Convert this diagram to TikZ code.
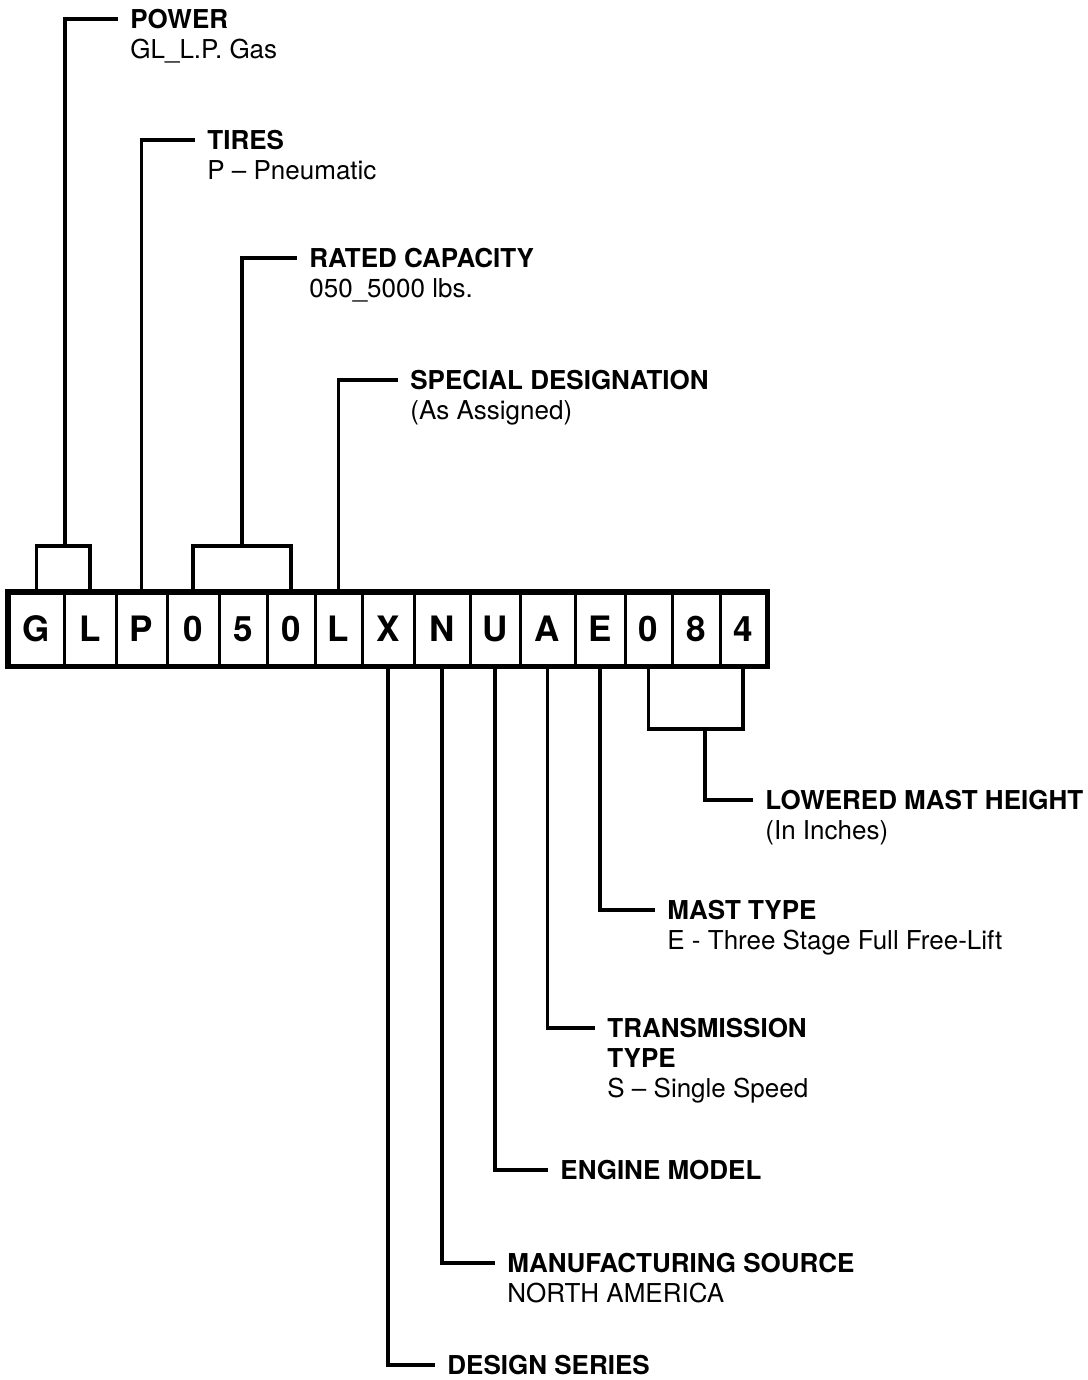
\documentclass[tikz,border=0pt]{standalone}
\usepackage{fontspec}
\setmainfont{TeX Gyre Heros}
\usetikzlibrary{positioning}
\begin{document}
\begin{tikzpicture}[x=0.5pt, y=-0.5pt,
	cell/.style={draw, line width=1.5pt, minimum height=36pt, inner sep=0pt, font=\fontsize{17.5}{20}\selectfont\bfseries},
	lead/.style={line width=1.75pt},
	head/.style={anchor=west, inner xsep=6pt, inner ysep=0pt, font=\fontsize{13}{15}\selectfont\bfseries},
	sub/.style={anchor=base west, inner xsep=6pt, inner ysep=0pt, font=\fontsize{13}{15}\selectfont}]
		\useasboundingbox (0,0) rectangle (1087,1380);
		\def\ym{629}
		% model number cells
		\foreach \l/\a/\b [count=\i] in {G/9/64, L/64/116, P/116/167, 0/167/219, 5/219/267, 0/267/315, L/315/362, X/362/414, N/414/470, U/470/520, A/520/575, E/575/625, 0/625/672, 8/672/720, 4/720/766}
			\node[cell, minimum width={(\b-\a)*0.5pt}] (c\i) at ({(\a+\b)/2},\ym) {\l};
		\draw[line width=2.5pt] (c1.north west) rectangle (c15.south east);
		% labels above
		\node[head] (pow) at (118,19) {POWER};
		\node[sub] at ([yshift=-15pt]pow.base west) {GL\_L.P. Gas};
		\node[head] (tir) at (195,140) {TIRES};
		\node[sub] at ([yshift=-15pt]tir.base west) {P -- Pneumatic};
		\node[head] (rat) at (297,258) {RATED CAPACITY};
		\node[sub] at ([yshift=-15pt]rat.base west) {050\_5000 lbs.};
		\node[head] (spe) at (398,380) {SPECIAL DESIGNATION};
		\node[sub] at ([yshift=-15pt]spe.base west) {(As Assigned)};
		% labels below
		\node[head] (low) at (753,800) {LOWERED MAST HEIGHT};
		\node[sub] at ([yshift=-15pt]low.base west) {(In Inches)};
		\node[head] (mas) at (655,910) {MAST TYPE};
		\node[sub] at ([yshift=-15pt]mas.base west) {E - Three Stage Full Free-Lift};
		\node[head] (tra) at (595,1028) {TRANSMISSION};
		\node[sub] (traT) at ([yshift=-15pt]tra.base west) {\bfseries TYPE};
		\node[sub] at ([yshift=-15pt]traT.base west) {S -- Single Speed};
		\node[head] (eng) at (548,1170) {ENGINE MODEL};
		\node[head] (man) at (495,1263) {MANUFACTURING SOURCE};
		\node[sub] at ([yshift=-15pt]man.base west) {NORTH AMERICA};
		\node[head] (des) at (435,1365) {DESIGN SERIES};
		% leads
		\coordinate (bgl) at (65,546);
		\coordinate (b050) at (242,546);
		\coordinate (b084) at (705,729);
		\draw[lead] (c1.north) |- (bgl) -| (c2.north);
		\draw[lead] (bgl) |- (pow.west);
		\draw[lead] (c3.north) |- (tir.west);
		\draw[lead] (c4.north) |- (b050) -| (c6.north);
		\draw[lead] (b050) |- (rat.west);
		\draw[lead] (c7.north) |- (spe.west);
		\draw[lead] (c8.south) |- (des.west);
		\draw[lead] (c9.south) |- (man.west);
		\draw[lead] (c10.south) |- (eng.west);
		\draw[lead] (c11.south) |- (tra.west);
		\draw[lead] (c12.south) |- (mas.west);
		\draw[lead] (c13.south) |- (b084) -| (c15.south);
		\draw[lead] (b084) |- (low.west);
	\end{tikzpicture}
\end{document}
